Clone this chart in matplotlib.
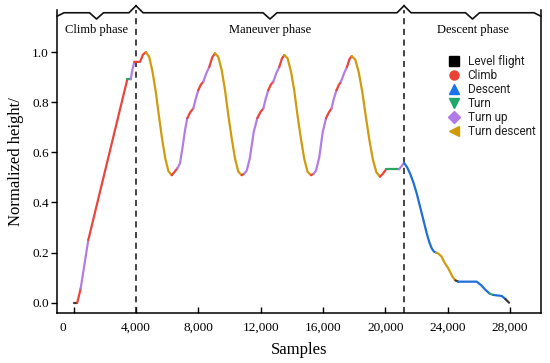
import matplotlib
matplotlib.use("Agg")
import matplotlib.pyplot as plt
from matplotlib.lines import Line2D
from matplotlib.transforms import blended_transform_factory, ScaledTranslation

plt.rcParams['font.family'] = ['Liberation Serif', 'DejaVu Serif']

# ---------------- data ----------------
# L=Level flight, C=Climb, D=Descent, T=Turn, U=Turn up, G=Turn descent
samples = [0, 230, 450, 937, 3440, 3658, 3770, 3890, 4255, 4450, 4640,
           4850, 5050, 5260, 5465, 5670, 5880, 6080, 6290,
           6450, 6649, 6822, 7000, 7150, 7291, 7480, 7676, 7840, 7997, 8160, 8318, 8510, 8703, 8900, 9069,
           9280, 9499, 9711, 9922, 10141, 10352, 10564, 10782,
           10950, 11103, 11300, 11550, 11783, 11980, 12168, 12330, 12489, 12650, 12810, 13000, 13195, 13370, 13517,
           13728, 13947, 14159, 14370, 14589, 14800, 15012, 15230,
           15400, 15551, 15760, 15980, 16193, 16380, 16546, 16700, 16867, 17010, 17155, 17350, 17540, 17700, 17842,
           18070, 18300, 18525, 18750, 18980, 19205, 19430, 19658,
           19850, 20043, 20878, 21199,
           21400, 21584, 21800, 22014, 22335, 22656, 22830, 22977, 23120, 23253,
           23381, 23600, 23800, 24042, 24300, 24500, 24684,
           25865, 26150, 26450, 26700, 26930, 27470, 27700, 27939, 28600]
height = [0.000, 0.000, 0.057, 0.250, 0.891, 0.891, 0.930, 0.961, 0.961, 0.990, 1.000,
          0.980, 0.925, 0.845, 0.748, 0.655, 0.575, 0.525, 0.509,
          0.520, 0.536, 0.556, 0.625, 0.690, 0.736, 0.760, 0.775, 0.815, 0.848, 0.870, 0.882, 0.915, 0.941, 0.980, 0.995,
          0.981, 0.928, 0.849, 0.749, 0.656, 0.576, 0.523, 0.509,
          0.515, 0.527, 0.575, 0.680, 0.736, 0.760, 0.775, 0.815, 0.848, 0.870, 0.882, 0.915, 0.941, 0.975, 0.988,
          0.975, 0.922, 0.845, 0.745, 0.652, 0.573, 0.522, 0.509,
          0.515, 0.527, 0.580, 0.680, 0.736, 0.760, 0.775, 0.815, 0.848, 0.868, 0.882, 0.915, 0.941, 0.972, 0.984,
          0.970, 0.918, 0.840, 0.742, 0.648, 0.570, 0.520, 0.503,
          0.515, 0.532, 0.532, 0.558,
          0.540, 0.516, 0.480, 0.436, 0.357, 0.277, 0.240, 0.217, 0.204, 0.200,
          0.197, 0.185, 0.160, 0.137, 0.105, 0.089, 0.084,
          0.084, 0.070, 0.050, 0.036, 0.031, 0.027, 0.015, 0.000, 0.000]
mode = (['L', 'C', 'U', 'C', 'T', 'U', 'U', 'C', 'C', 'C']
        + ['G'] * 8
        + ['C', 'C', 'U', 'U', 'U', 'U', 'C', 'C', 'U', 'U', 'C', 'C', 'U', 'U', 'C', 'C']
        + ['G'] * 8
        + ['C', 'U', 'U', 'U', 'U', 'C', 'C', 'U', 'U', 'C', 'C', 'U', 'U', 'C', 'C']
        + ['G'] * 8
        + ['C', 'U', 'U', 'U', 'U', 'C', 'C', 'U', 'U', 'C', 'C', 'U', 'U', 'C', 'C']
        + ['G'] * 8
        + ['C', 'C', 'T', 'U']
        + ['D'] * 10
        + ['G'] * 6
        + ['L', 'D', 'D', 'D', 'D', 'T', 'D', 'D', 'L'])

mode_names = ['Level flight', 'Climb', 'Descent', 'Turn', 'Turn up', 'Turn descent']
mode_keys = ['L', 'C', 'D', 'T', 'U', 'G']
line_colors = {'L': '#3a3a3a', 'C': '#E8453C', 'D': '#1F6FD9', 'T': '#27A862',
               'U': '#B27EE6', 'G': '#D09B0E'}
marker_colors = ['#000000', '#EA4335', '#1A73E8', '#1FA868', '#B07BE8', '#D09A0A']
markers = ['s', 'o', '^', 'v', 'D', '<']

phase_bounds = [4000, 21200]
phase_names = ['Climb phase', 'Maneuver phase', 'Descent phase']

xtick_vals = [0, 4000, 8000, 12000, 16000, 20000, 24000, 28000]
xtick_labels = ['0', '4,000', '8,000', '12,000', '16,000', '20,000', '24,000', '28,000']
ytick_vals = [0.0, 0.2, 0.4, 0.6, 0.8, 1.0]
ytick_labels = ['0.0', '0.2', '0.4', '0.6', '0.8', '1.0']

# ---------------- figure ----------------
fig = plt.figure(figsize=(5.5, 3.63), dpi=100)
ax = fig.add_axes([57 / 550, 1 - 313 / 363, (541 - 57) / 550, (313 - 10) / 363])
xlim = (-1070, 29990)
ylim = (-0.041, 1.168)
ax.set_xlim(*xlim)
ax.set_ylim(*ylim)

# trajectory, coloured by flight mode
i = 0
n = len(mode)
while i < n:
    j = i
    while j + 1 < n and mode[j + 1] == mode[i]:
        j += 1
    ax.plot(samples[i:j + 2], height[i:j + 2], color=line_colors[mode[i]], lw=1.6,
            solid_capstyle='round', solid_joinstyle='round', zorder=3)
    i = j + 1

# phase boundaries
for b in phase_bounds:
    ax.axvline(b, color='#111111', lw=1.1, ls=(0, (4, 3)), zorder=2)

# braces on top
edges = [xlim[0]] + phase_bounds + [xlim[1]]
y_line, y_dip, y_end, y_peak = 1.157, 1.132, 1.143, 1.185
d = 450
for k in range(3):
    a, b = edges[k], edges[k + 1]
    m = (a + b) / 2
    ya = y_peak if k > 0 else y_end
    yb = y_peak if k < 2 else y_end
    xs = [a, a + d, m - d, m, m + d, b - d, b]
    ys = [ya, y_line, y_line, y_dip, y_line, y_line, yb]
    ax.plot(xs, ys, color='#111111', lw=1.2, clip_on=False, zorder=4)
    ax.text(m, 1.09, phase_names[k], ha='center', va='center', fontsize=9)

# spines / ticks
ax.spines['top'].set_visible(False)
for s in ['left', 'right', 'bottom']:
    ax.spines[s].set_linewidth(1.1)
ax.set_xticks(xtick_vals)
ax.set_xticklabels([''] + xtick_labels[1:])
ax.set_yticks(ytick_vals)
ax.set_yticklabels(ytick_labels)
ax.tick_params(axis='x', direction='in', length=4, width=1, labelsize=9.5, pad=6)
ax.tick_params(axis='y', direction='out', length=4, width=1, labelsize=9.5, pad=2)
trans = blended_transform_factory(ax.transData, ax.transAxes) + ScaledTranslation(-11 / 100, 0, fig.dpi_scale_trans)
ax.text(xtick_vals[0], -0.03, xtick_labels[0], transform=trans, ha='center', va='top', fontsize=9.5)

ax.set_xlabel('Samples', fontsize=12, labelpad=6)
ax.set_ylabel('Normalized height/', fontsize=12, labelpad=6)

# legend
handles = [Line2D([], [], ls='none', marker=mk, color=c, markersize=6.5)
           for mk, c in zip(markers, marker_colors)]
leg = fig.legend(handles, mode_names, loc='upper left', bbox_to_anchor=(448 / 550, 1 - 55 / 363),
                 frameon=False, handlelength=1.0, handletextpad=0.67, labelspacing=0.09,
                 borderpad=0, borderaxespad=0,
                 prop={'family': ['Roboto', 'DejaVu Sans'], 'size': 8.5})
for t in leg.get_texts():
    t.set_color('#222222')

fig.savefig('out.png', dpi=100)
